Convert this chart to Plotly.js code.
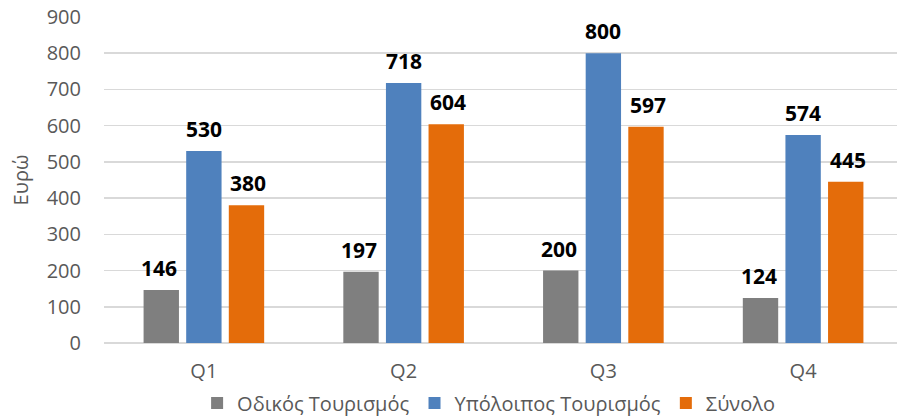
<!DOCTYPE html>
<html><head><meta charset="utf-8">
<script src="https://cdn.plot.ly/plotly-3.0.1.min.js"></script>
<style>html,body{margin:0;padding:0;overflow:hidden;background:#fff}</style>
</head><body><div id="chart" style="width:897px;height:417px"></div>
<script>
const categories = ["Q1", "Q2", "Q3", "Q4"];
const seriesNames = ["Οδικός Τουρισμός", "Υπόλοιπος Τουρισμός", "Σύνολο"];
const roadTourism = [146, 197, 200, 124];
const otherTourism = [530, 718, 800, 574];
const total = [380, 604, 597, 445];
const yTicks = [0, 100, 200, 300, 400, 500, 600, 700, 800, 900];
const yTitle = "Ευρώ";

const colors = ["#7f7f7f", "#4f81bd", "#e46c0a"];
const allSeries = [roadTourism, otherTourism, total];
const font = "'Open Sans', 'Noto Sans', sans-serif";

const traces = allSeries.map((vals, i) => ({
  type: "bar", x: categories, y: vals, name: seriesNames[i],
  marker: {color: colors[i]}, hoverinfo: "none"
}));

const offsets = [-44.5, 0, 44.5];
const annotations = [];
allSeries.forEach((vals, i) => {
  vals.forEach((v, j) => {
    annotations.push({
      x: categories[j], y: v, xref: "x", yref: "y", text: "<b>" + v + "</b>",
      showarrow: false, xshift: offsets[i], yanchor: "bottom", yshift: 6,
      font: {family: font, size: 21, color: "#000"}
    });
  });
});

const layout = {
  width: 897, height: 417,
  margin: {l: 104, r: 0, t: 17, b: 74, autoexpand: false},
  paper_bgcolor: "#fff", plot_bgcolor: "#fff",
  barmode: "group", bargap: 0.36, bargroupgap: 0.17,
  font: {family: font, color: "#595959"},
  xaxis: {
    range: [-0.5, 3.47], showgrid: false, zeroline: false, showline: false,
    ticks: "", tickfont: {size: 20, color: "#595959"}, ticklabelstandoff: 14, fixedrange: true
  },
  yaxis: {
    range: [0, 900], tickvals: yTicks, showgrid: true, gridcolor: "#d9d9d9", gridwidth: 1.5,
    zeroline: true, zerolinecolor: "#d9d9d9", zerolinewidth: 1.5, showline: false,
    ticks: "", ticklabelstandoff: 22,
    tickfont: {size: 20, color: "#595959"},
    title: {text: yTitle, font: {size: 20, color: "#595959"}, standoff: 12},
    fixedrange: true
  },
  showlegend: true,
  legend: {
    orientation: "h", x: 0.485, xanchor: "center", y: -0.184, yanchor: "middle",
    font: {size: 20, color: "#595959"}, itemwidth: 30, traceorder: "normal"
  },
  annotations: annotations
};

Plotly.newPlot("chart", traces, layout, {displayModeBar: false, staticPlot: true});
</script></body></html>
